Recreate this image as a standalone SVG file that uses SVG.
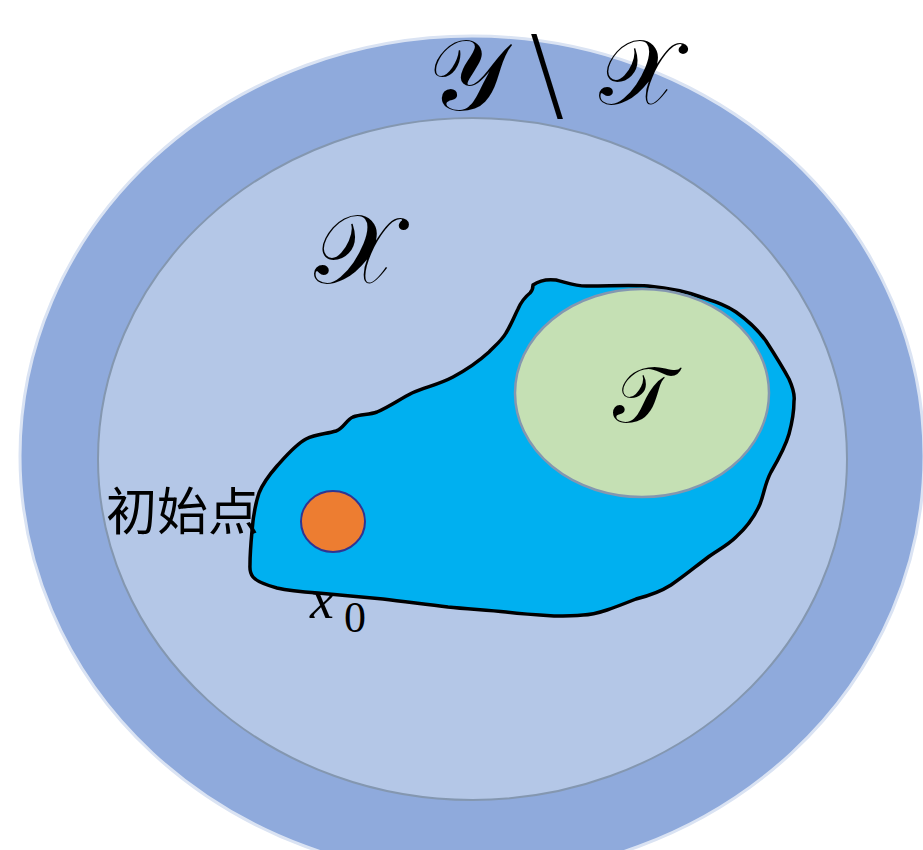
<svg xmlns="http://www.w3.org/2000/svg" width="923" height="850" viewBox="0 0 923 850">
<style>
.math{font-family:"DejaVu Serif","DejaVu Sans","Noto Sans",serif;fill:#000}
.cjk{font-family:"Noto Sans CJK SC","Noto Sans CJK JP",sans-serif;fill:#000}
.ser{font-family:"Liberation Serif",serif;fill:#000}
.thin{font-family:"DejaVu Sans",sans-serif;font-weight:200;fill:#000}
</style>
<rect width="923" height="850" fill="#ffffff"/>
<g id="space-Y">
<ellipse cx="472" cy="456" rx="452" ry="420" fill="#8faadc" stroke="#dae3f3" stroke-width="3"/>
</g>
<g id="space-X">
<ellipse cx="472.5" cy="459" rx="374.5" ry="341" fill="#b4c7e7" stroke="#8497b0" stroke-width="2"/>
</g>
<g id="region">
<path d="M533,285 C540,280 548,279 556,280 C568,283 578,287 589,286 C610,286 630,285 648,286 C668,288 688,292 701,297 C716,302 726,305 736,312 C750,322 758,330 766,341 C775,355 782,366 789,379 C793,388 795,395 794,401 C794,413 792,423 789,434 C785,448 778,460 771,472 C765,483 764,494 760,504 C754,518 746,528 736,537 C727,546 716,551 707,558 C695,567 683,577 671,585 C660,592 648,596 636,599 C626,603 616,607 607,610 C598,613 590,615 583,615 C573,616 563,616 554,616 C538,615 522,614 506,612 C487,610 467,609 448,607 C426,604 405,602 383,599 C361,597 340,595 318,593 C304,592 290,591 277,588 C266,585 257,582 253,577 C249,572 250,568 250,564 C250,553 251,542 252,531 C253,518 255,505 259,493 C263,483 270,474 277,466 C286,456 295,445 306,439 C316,434 326,434 336,431 C344,428 346,420 353,417 C361,414 369,415 377,412 C389,407 400,399 412,393 C426,387 440,384 453,377 C466,370 478,362 489,352 C496,345 502,340 506,333 C511,325 514,317 518,309 C521,302 525,297 530,293 C532,291 533,288 533,285 Z" fill="#00b0f0" stroke="#000" stroke-width="3.5" stroke-linejoin="round"/>
</g>
<g id="target">
<ellipse cx="642" cy="393" rx="127" ry="104" fill="#c5e0b4" stroke="#8497b0" stroke-width="2.5"/>
<text class="math" x="643" y="422" font-size="78" text-anchor="middle">𝒯</text>
</g>
<g id="start">
<ellipse cx="333" cy="521.5" rx="32" ry="30.5" fill="#ed7d31" stroke="#2f3593" stroke-width="2"/>
</g>
<g id="labels">
<text class="math" x="356" y="283" font-size="98" text-anchor="middle">𝒳</text>
<text class="math" x="467" y="110" font-size="100" text-anchor="middle">𝒴</text>
<text class="thin" x="547" y="109" font-size="104" text-anchor="middle">\</text>
<text class="math" x="638" y="104" font-size="92" text-anchor="middle">𝒳</text>
<text class="cjk" x="106" y="530" font-size="51">初始点</text>
<text class="ser" x="310" y="618" font-size="54" font-style="italic">x</text>
<text class="ser" x="344" y="632" font-size="44">0</text>
</g>
<g id="connectors"/>
</svg>
